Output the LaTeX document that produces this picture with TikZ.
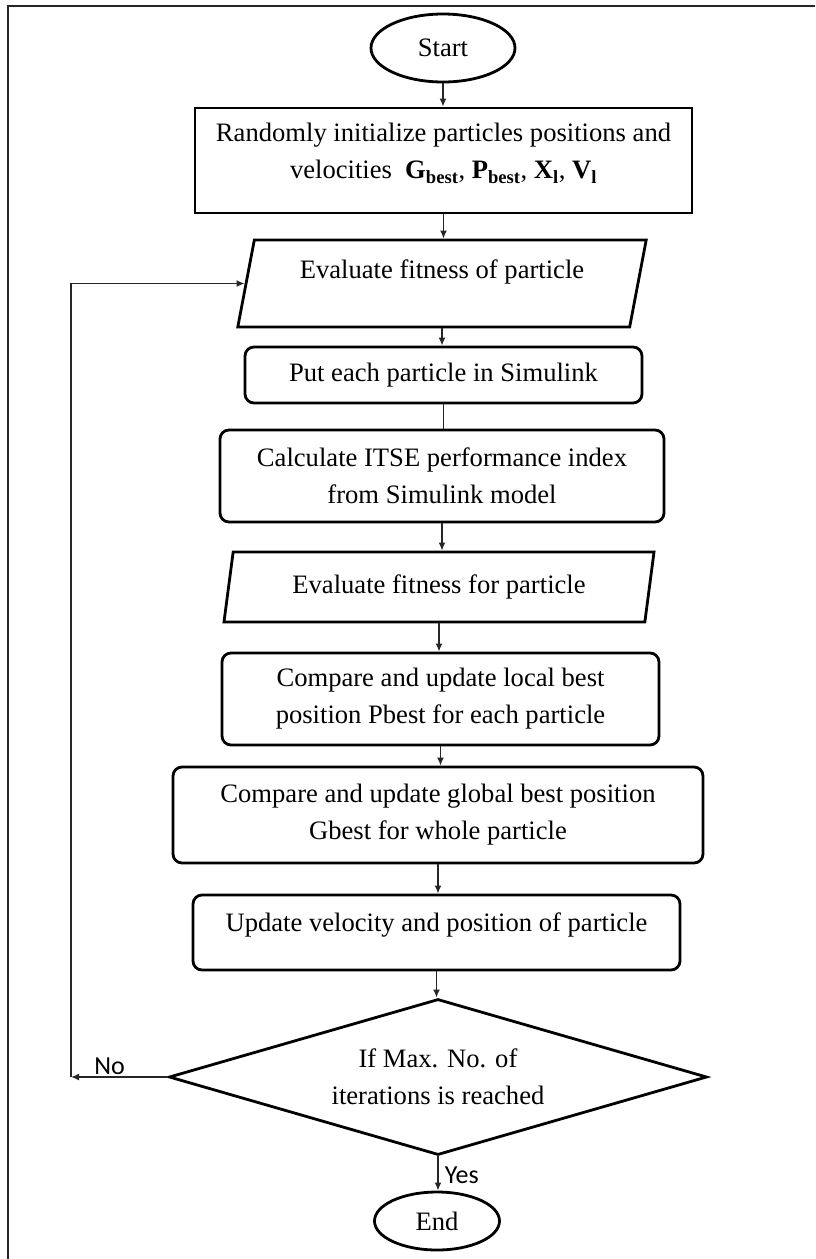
\documentclass[tikz,border=0pt]{standalone}
\usepackage{fontspec}
\setmainfont{Liberation Serif}
\newfontfamily\sansf{Carlito}
\usetikzlibrary{shapes.geometric,arrows.meta}
\begin{document}
\begin{tikzpicture}[x=1pt,y=-1pt,
  every node/.style={font=\fontsize{26.6}{37}\selectfont, align=center, inner sep=0pt},
  shapeline/.style={draw=black, line width=2.8pt},
  term/.style={shapeline, ellipse},
  plainbox/.style={shapeline, rectangle},
  roundbox/.style={shapeline, rectangle, rounded corners=9pt},
  iobox/.style={shapeline, trapezium, trapezium left angle=75, trapezium right angle=105, trapezium stretches=true},
  decision/.style={shapeline, diamond, aspect=3.45},
  conn/.style={draw=black!85, line width=1.6pt},
  arr/.style={conn, -{Latex[length=8pt,width=7pt]}},
  lbl/.style={font=\sansf\fontsize{26}{30}\selectfont}
]
\useasboundingbox[fill=white] (0,0) rectangle (815,1259);
% outer frame (top and left edges)
\draw[line width=2.6pt, black!85] (8,1259) -- (8,6) -- (815,6);

\node[term, minimum width=144pt, minimum height=68pt] (start) at (443,48) {Start};
\node[plainbox, minimum width=497pt, minimum height=105pt, text depth=19pt] (rand) at (443.5,160.5)
  {Randomly initialize particles positions and\\velocities \ \textbf{G\textsubscript{best}}, \textbf{P\textsubscript{best}}, \textbf{X\textsubscript{l}}, \textbf{V\textsubscript{l}}};
\node[iobox, minimum width=410pt, minimum height=87pt, text depth=28pt] (eval1) at (442,283.5) {Evaluate fitness of particle};
\node[roundbox, minimum width=397pt, minimum height=56pt] (put) at (443.5,375) {Put each particle in Simulink};
\node[roundbox, minimum width=444pt, minimum height=92pt] (calc) at (442,476) {Calculate ITSE performance index\\from Simulink model};
\node[iobox, minimum width=432pt, minimum height=70pt] (eval2) at (439,587) {Evaluate fitness for particle};
\node[roundbox, minimum width=437pt, minimum height=92pt] (local) at (440.5,699) {Compare and update local best\\position Pbest for each particle};
\node[roundbox, minimum width=530pt, minimum height=96pt] (global) at (438,815) {Compare and update global best position\\Gbest for whole particle};
\node[roundbox, minimum width=487pt, minimum height=75pt, text depth=20pt] (update) at (436.5,932.5) {Update velocity and position of particle};
\node[decision, minimum width=538pt, minimum height=156pt] (dec) at (438,1077) {If Max. No. of\\iterations is reached};
\node[term, minimum width=125pt, minimum height=58pt] (end) at (437,1221) {End};

\coordinate (fb) at (71,1077);

\draw[arr] (start.south) -- (start.south |- rand.north);
\draw[arr] (rand.south) -- (rand.south |- eval1.north);
\draw[arr] (eval1.south) -- (eval1.south |- put.north);
\draw[conn] (put.south) -- (put.south |- calc.north);
\draw[arr] (calc.south) -- (calc.south |- eval2.north);
\draw[arr] (eval2.south) -- (eval2.south |- local.north);
\draw[arr] (local.south) -- (local.south |- global.north);
\draw[arr] (global.south) -- (global.south |- update.north);
\draw[arr] (update.south) -- (update.south |- dec.north);
\draw[arr] (dec.south) -- node[lbl, anchor=west, xshift=6pt, yshift=-2pt] (yes) {Yes} (dec.south |- end.north);
\draw[arr] (dec.west) -- node[lbl, above, pos=0.6, yshift=2pt] (no) {No} (fb);
\draw[arr] (fb) |- (eval1.west);
\end{tikzpicture}
\end{document}
